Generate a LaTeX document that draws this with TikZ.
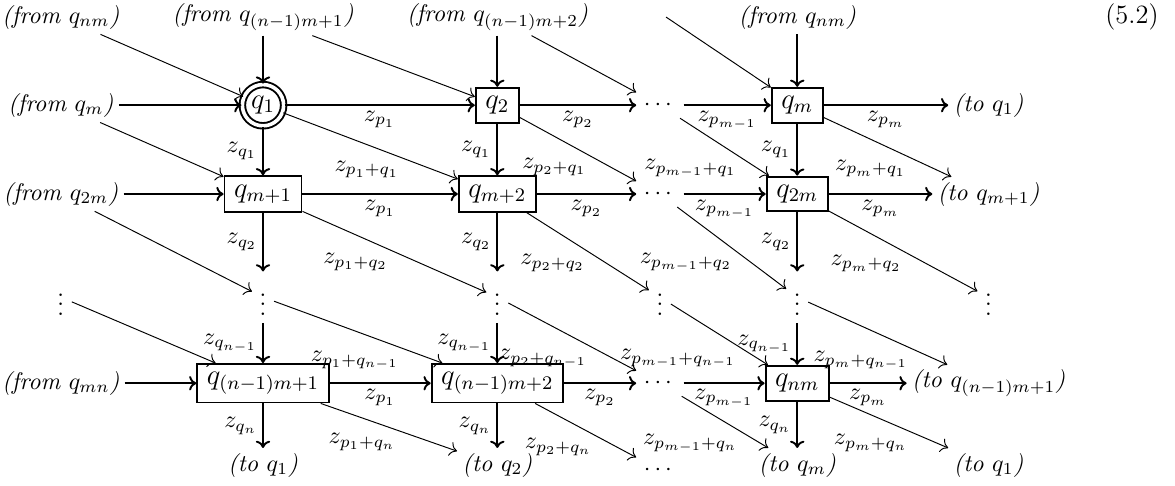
\documentclass[tikz,border=0pt]{standalone}
\usepackage{amsmath, amssymb}
\usetikzlibrary{arrows.meta, positioning}

\begin{document}
\begin{tikzpicture}[
        qbox/.style={rectangle, draw, thick, inner xsep=4pt, inner ysep=3.5pt, font=\large},
        qstart/.style={circle, draw, thick, double, double distance=1.5pt, inner sep=1.7pt, font=\large},
        lbl/.style={inner sep=2pt, font=\itshape},
        dotsnode/.style={inner sep=3pt},
        arrow/.style={-{To[length=3pt, width=6pt]}, thick},
        diag/.style={-{To[length=3pt, width=6pt]}, thin},
        elab/.style={inner sep=2pt},
        dlab/.style={anchor=north east, inner sep=1pt}
    ]
        \useasboundingbox (0,0) rectangle (17.2,-7.1);

        % Row 0: incoming labels (top)
        \node[lbl] (fromA) at (0.89,-0.25) {(from $q_{nm}$)};
        \node[lbl] (fromB) at (3.85,-0.25) {(from $q_{(n-1)m+1}$)};
        \node[lbl] (fromC) at (7.28,-0.25) {(from $q_{(n-1)m+2}$)};
        \coordinate (top3) at (9.75,-0.25);
        \node[lbl] (fromD) at (11.67,-0.25) {(from $q_{nm}$)};
        \node[font=\fontsize{11}{13}\selectfont] (eqno) at (16.57,-0.25) {(5.2)};

        % Row 1
        \node[lbl] (fromm) at (0.89,-1.54) {(from $q_m$)};
        \node[qstart] (q1) at (3.85,-1.54) {$q_1$};
        \node[qbox] (q2) at (7.28,-1.54) {$q_2$};
        \node[dotsnode] (hd1) at (9.66,-1.54) {$\cdots$};
        \node[qbox] (qm) at (11.67,-1.54) {$q_m$};
        \node[lbl] (toR1) at (14.47,-1.54) {(to $q_1$)};

        % Row 2
        \node[lbl] (from2m) at (0.89,-2.84) {(from $q_{2m}$)};
        \node[qbox] (qmA) at (3.85,-2.84) {$q_{m+1}$};
        \node[qbox] (qmB) at (7.28,-2.84) {$q_{m+2}$};
        \node[dotsnode] (hd2) at (9.66,-2.84) {$\cdots$};
        \node[qbox] (q2m) at (11.67,-2.84) {$q_{2m}$};
        \node[lbl] (toR2) at (14.47,-2.84) {(to $q_{m+1}$)};

        % Row 3: vertical dots
        \node[dotsnode] (vd0) at (0.89,-4.35) {$\vdots$};
        \node[dotsnode] (vd1) at (3.85,-4.35) {$\vdots$};
        \node[dotsnode] (vd2) at (7.28,-4.35) {$\vdots$};
        \node[dotsnode] (vd3) at (9.66,-4.35) {$\vdots$};
        \node[dotsnode] (vd4) at (11.67,-4.35) {$\vdots$};
        \node[dotsnode] (vd5) at (14.47,-4.35) {$\vdots$};

        % Row 4
        \node[lbl] (frommn) at (0.89,-5.61) {(from $q_{mn}$)};
        \node[qbox] (qnA) at (3.85,-5.61) {$q_{(n-1)m+1}$};
        \node[qbox] (qnB) at (7.28,-5.61) {$q_{(n-1)m+2}$};
        \node[dotsnode] (hd4) at (9.66,-5.61) {$\cdots$};
        \node[qbox] (qnm) at (11.67,-5.61) {$q_{nm}$};
        \node[lbl] (toR4) at (14.47,-5.61) {(to $q_{(n-1)m+1}$)};

        % Row 5: outgoing labels (bottom)
        \node[lbl] (toB1) at (3.85,-6.81) {(to $q_1$)};
        \node[lbl] (toB2) at (7.28,-6.81) {(to $q_2$)};
        \node[dotsnode] (hd5) at (9.66,-6.88) {$\cdots$};
        \node[lbl] (toBm) at (11.67,-6.81) {(to $q_m$)};
        \node[lbl] (toB5) at (14.47,-6.81) {(to $q_1$)};

        % Horizontal arrows
        \draw[arrow] (fromm) -- (q1);
        \draw[arrow] (q1) -- node[elab, below] {$z_{p_1}$} (q2);
        \draw[arrow] (q2) -- node[elab, below] {$z_{p_2}$} (hd1);
        \draw[arrow] (hd1) -- node[elab, below] {$z_{p_{m-1}}$} (qm);
        \draw[arrow] (qm) -- node[elab, below] {$z_{p_m}$} (toR1);

        \draw[arrow] (from2m) -- (qmA);
        \draw[arrow] (qmA) -- node[elab, below] {$z_{p_1}$} (qmB);
        \draw[arrow] (qmB) -- node[elab, below] {$z_{p_2}$} (hd2);
        \draw[arrow] (hd2) -- node[elab, below] {$z_{p_{m-1}}$} (q2m);
        \draw[arrow] (q2m) -- node[elab, below] {$z_{p_m}$} (toR2);

        \draw[arrow] (frommn) -- (qnA);
        \draw[arrow] (qnA) -- node[elab, below] {$z_{p_1}$} (qnB);
        \draw[arrow] (qnB) -- node[elab, below] {$z_{p_2}$} (hd4);
        \draw[arrow] (hd4) -- node[elab, below] {$z_{p_{m-1}}$} (qnm);
        \draw[arrow] (qnm) -- node[elab, below] {$z_{p_m}$} (toR4);

        % Vertical arrows
        \draw[arrow] (fromB) -- (q1);
        \draw[arrow] (q1) -- node[elab, left] {$z_{q_1}$} (qmA);
        \draw[arrow] (qmA) -- node[elab, left] {$z_{q_2}$} (vd1);
        \draw[arrow] (vd1) -- node[elab, left] {$z_{q_{n-1}}$} (qnA);
        \draw[arrow] (qnA) -- node[elab, left] {$z_{q_n}$} (toB1);

        \draw[arrow] (fromC) -- (q2);
        \draw[arrow] (q2) -- node[elab, left] {$z_{q_1}$} (qmB);
        \draw[arrow] (qmB) -- node[elab, left] {$z_{q_2}$} (vd2);
        \draw[arrow] (vd2) -- node[elab, left] {$z_{q_{n-1}}$} (qnB);
        \draw[arrow] (qnB) -- node[elab, left] {$z_{q_n}$} (toB2);

        \draw[arrow] (fromD) -- (qm);
        \draw[arrow] (qm) -- node[elab, left] {$z_{q_1}$} (q2m);
        \draw[arrow] (q2m) -- node[elab, left] {$z_{q_2}$} (vd4);
        \draw[arrow] (vd4) -- node[elab, left] {$z_{q_{n-1}}$} (qnm);
        \draw[arrow] (qnm) -- node[elab, left] {$z_{q_n}$} (toBm);

        % Diagonal arrows - row 0 to row 1
        \draw[diag] (fromA) -- (q1);
        \draw[diag] (fromB) -- (q2);
        \draw[diag] (fromC) -- (hd1);
        \draw[diag] (top3) -- (qm);

        % Diagonal arrows - row 1 to row 2
        \draw[diag] (fromm) -- (qmA);
        \draw[diag] (q1) -- node[dlab, pos=0.68] {$z_{p_1+q_1}$} (qmB);
        \draw[diag] (q2) -- node[dlab, pos=0.6] {$z_{p_2+q_1}$} (hd2);
        \draw[diag] (hd1) -- node[dlab, pos=0.67] {$z_{p_{m-1}+q_1}$} (q2m);
        \draw[diag] (qm) -- node[dlab, pos=0.67] {$z_{p_m+q_1}$} (toR2);

        % Diagonal arrows - row 2 to row 3
        \draw[diag] (from2m) -- (vd1);
        \draw[diag] (qmA) -- node[dlab, pos=0.48] {$z_{p_1+q_2}$} (vd2);
        \draw[diag] (qmB) -- node[dlab, pos=0.5] {$z_{p_2+q_2}$} (vd3);
        \draw[diag] (hd2) -- node[dlab, pos=0.53] {$z_{p_{m-1}+q_2}$} (vd4);
        \draw[diag] (q2m) -- node[dlab, pos=0.51] {$z_{p_m+q_2}$} (vd5);

        % Diagonal arrows - row 3 to row 4
        \draw[diag] (vd0) -- (qnA);
        \draw[diag] (vd1) -- node[dlab, pos=0.76] {$z_{p_1+q_{n-1}}$} (qnB);
        \draw[diag] (vd2) -- node[dlab, pos=0.64] {$z_{p_2+q_{n-1}}$} (hd4);
        \draw[diag] (vd3) -- node[dlab, pos=0.7] {$z_{p_{m-1}+q_{n-1}}$} (qnm);
        \draw[diag] (vd4) -- node[dlab, pos=0.74] {$z_{p_m+q_{n-1}}$} (toR4);

        % Diagonal arrows - row 4 to row 5
        \draw[diag] (qnA) -- node[dlab, pos=0.57] {$z_{p_1+q_n}$} (toB2);
        \draw[diag] (qnB) -- node[dlab, pos=0.59] {$z_{p_2+q_n}$} (hd5);
        \draw[diag] (hd4) -- node[dlab, pos=0.68] {$z_{p_{m-1}+q_n}$} (toBm);
        \draw[diag] (qnm) -- node[dlab, pos=0.68] {$z_{p_m+q_n}$} (toB5);
    \end{tikzpicture}
\end{document}
